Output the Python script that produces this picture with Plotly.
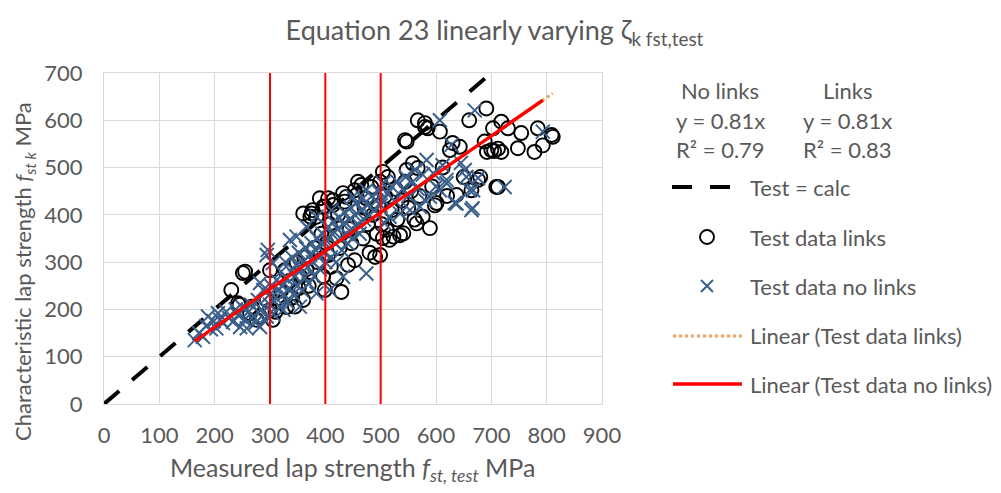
import plotly.graph_objects as go

# ---------------- data ----------------
LINKS_X = [230, 242, 245, 251, 255, 264, 267, 276, 282, 294, 300, 300, 305, 310, 315, 320, 327, 330, 335, 340,
           345, 348, 352, 355, 360, 360, 362, 366, 370, 373, 375, 377, 380, 384, 386, 390, 393, 396, 396, 399,
           399, 402, 405, 405, 408, 410, 414, 414, 417, 420, 423, 426, 429, 432, 435, 438, 441, 444, 447, 453,
           453, 456, 459, 462, 465, 468, 471, 474, 477, 480, 483, 486, 490, 493, 496, 499, 499, 502, 504, 504,
           508, 511, 513, 516, 520, 523, 527, 530, 535, 538, 541, 544, 544, 547, 547, 550, 555, 558, 561, 565,
           567, 567, 570, 576, 580, 580, 585, 589, 593, 598, 601, 607, 612, 620, 625, 630, 637, 643, 650, 660,
           664, 676, 680, 688, 691, 692, 700, 703, 705, 709, 712, 712, 718, 718, 730, 748, 754, 778, 784, 793,
           809, 811]
LINKS_Y = [241, 213, 210, 277, 280, 192, 206, 178, 185, 220, 283, 199, 178, 195, 215, 240, 283, 205, 260, 225,
           206, 300, 245, 270, 220, 403, 310, 285, 250, 396, 403, 410, 330, 396, 300, 435, 360, 270, 417, 417,
           241, 340, 315, 435, 380, 290, 431, 421, 355, 266, 400, 330, 237, 446, 428, 438, 294, 370, 340, 452,
           304, 442, 470, 390, 463, 350, 415, 435, 380, 320, 459, 400, 311, 360, 420, 470, 315, 380, 491, 351,
           440, 368, 480, 347, 410, 354, 455, 390, 357, 430, 361, 470, 558, 555, 495, 415, 450, 509, 390, 382,
           600, 499, 440, 396, 586, 594, 583, 372, 460, 420, 425, 576, 500, 440, 537, 552, 442, 544, 480, 600,
           452, 474, 480, 555, 625, 533, 537, 583, 535, 459, 459, 540, 597, 533, 583, 541, 573, 533, 583, 547,
           569, 565]

NO_LINKS_X = [164, 172, 179, 185, 188, 193, 198, 203, 206, 210, 215, 221, 226, 233, 238, 242, 246, 250, 254, 258,
              262, 266, 270, 274, 278, 282, 282, 285, 288, 290, 294, 294, 296, 298, 300, 302, 305, 306, 310, 312,
              315, 318, 320, 322, 324, 325, 328, 330, 332, 335, 336, 338, 340, 342, 345, 348, 348, 350, 352, 354,
              355, 358, 360, 362, 365, 366, 368, 370, 372, 375, 378, 380, 383, 384, 384, 385, 388, 390, 392, 395,
              398, 400, 402, 405, 408, 408, 410, 411, 412, 415, 418, 420, 422, 425, 428, 430, 432, 432, 435, 438,
              440, 443, 446, 448, 450, 450, 453, 456, 459, 462, 465, 468, 470, 474, 474, 476, 480, 484, 488, 492,
              496, 500, 504, 504, 507, 512, 516, 520, 525, 530, 535, 540, 545, 550, 553, 558, 562, 567, 571, 576,
              580, 583, 589, 595, 600, 607, 607, 612, 619, 619, 628, 634, 637, 645, 652, 655, 661, 664, 666, 667,
              670, 676, 724, 793]
NO_LINKS_Y = [135, 150, 142, 165, 185, 158, 175, 160, 192, 178, 171, 195, 182, 174, 200, 188, 163, 205, 178, 160,
              196, 210, 185, 172, 220, 163, 256, 200, 241, 178, 185, 315, 326, 230, 210, 250, 298, 190, 225, 262,
              240, 205, 280, 250, 199, 232, 300, 265, 215, 245, 347, 280, 310, 232, 270, 295, 354, 250, 320, 206,
              285, 240, 300, 268, 330, 375, 290, 255, 315, 340, 300, 270, 325, 396, 234, 350, 310, 285, 340, 360,
              320, 300, 345, 375, 330, 241, 310, 410, 360, 385, 340, 300, 370, 395, 350, 325, 380, 269, 405, 360,
              340, 390, 415, 370, 350, 438, 400, 425, 380, 360, 410, 435, 390, 276, 452, 420, 400, 440, 410, 430,
              450, 420, 431, 467, 382, 445, 396, 460, 430, 470, 403, 455, 480, 440, 410, 470, 495, 455, 417, 485,
              431, 516, 438, 488, 460, 452, 600, 505, 474, 467, 548, 425, 424, 510, 495, 480, 452, 410, 414, 452,
              621, 478, 459, 576]

TEST_CALC_X = [0, 700]
TEST_CALC_Y = [0, 700]
VLINES_X = [300, 400, 500]
VLINE_Y = [0, 700]
LINKS_SLOPE = 0.81
NO_LINKS_SLOPE = 0.81

X_TICKS = [0, 100, 200, 300, 400, 500, 600, 700, 800, 900]
Y_TICKS = [0, 100, 200, 300, 400, 500, 600, 700]

TITLE = "Equation 23 linearly varying ζ<sub>k fst,test</sub>"
X_TITLE = "Measured lap strength <i>f<sub>st, test</sub></i> MPa"
Y_TITLE = "Characteristic lap strength <i>f<sub>st k</sub></i> MPa"

# ---------------- styling ----------------
FONT = "Lato"
GREY = "#595959"
GRID = "#D9D9D9"
BLUE = "#3A5F8A"
RED = "#FF0000"
ORANGE = "#F59D56"
TXT = 22

W, H = 1001, 493
L, R, T, B = 104, 602, 73, 404  # plot area in pixels


def px(x):
    return (x - L) / (R - L)


def py(y):
    return (B - y) / (B - T)


fig = go.Figure()

fig.add_trace(go.Scatter(x=TEST_CALC_X, y=TEST_CALC_Y, mode="lines",
                         line=dict(color="black", width=4, dash="20px,17px"),
                         showlegend=False, hoverinfo="skip"))

fig.add_trace(go.Scatter(x=LINKS_X, y=LINKS_Y, mode="markers",
                         marker=dict(symbol="circle-open", size=14, color="black",
                                     line=dict(width=1.9, color="black")),
                         showlegend=False))

fig.add_trace(go.Scatter(x=NO_LINKS_X, y=NO_LINKS_Y, mode="markers",
                         marker=dict(symbol="x-thin-open", size=14, color=BLUE,
                                     line=dict(width=2, color=BLUE)),
                         showlegend=False))

lx = [min(LINKS_X), max(LINKS_X)]
fig.add_trace(go.Scatter(x=lx, y=[LINKS_SLOPE * v for v in lx], mode="lines",
                         line=dict(color=ORANGE, width=3, dash="dot"),
                         showlegend=False))
nx = [min(NO_LINKS_X), max(NO_LINKS_X)]
fig.add_trace(go.Scatter(x=nx, y=[NO_LINKS_SLOPE * v for v in nx], mode="lines",
                         line=dict(color=RED, width=3.4),
                         showlegend=False))

for v in VLINES_X:
    fig.add_trace(go.Scatter(x=[v, v], y=VLINE_Y, mode="lines",
                             line=dict(color=RED, width=2), showlegend=False, hoverinfo="skip"))

axis_common = dict(showgrid=True, gridcolor=GRID, gridwidth=1, showline=True, linecolor=GRID,
                   linewidth=1, mirror=True, zeroline=False, ticks="",
                   tickfont=dict(family=FONT, size=TXT, color=GREY))

fig.update_xaxes(range=[0, 900], tickvals=X_TICKS, ticktext=[str(v) for v in X_TICKS],
                 ticklabelstandoff=12, **axis_common)
fig.update_yaxes(range=[0, 700], tickvals=Y_TICKS, ticktext=[str(v) for v in Y_TICKS],
                 ticklabelstandoff=16, **axis_common)

annotations = [
    dict(text=X_TITLE, x=px(352), y=py(469), xanchor="center", yanchor="middle",
         font=dict(size=25)),
    dict(text=Y_TITLE, x=px(24), y=py(272), xanchor="center", yanchor="middle",
         textangle=-90, font=dict(size=22)),
    dict(text="No links", x=px(720), y=py(90), xanchor="center", yanchor="middle"),
    dict(text="Links", x=px(848), y=py(90), xanchor="center", yanchor="middle"),
    dict(text="y = 0.81x", x=px(720), y=py(120), xanchor="center", yanchor="middle"),
    dict(text="y = 0.81x", x=px(847), y=py(120), xanchor="center", yanchor="middle"),
    dict(text="R² = 0.79", x=px(720), y=py(149), xanchor="center", yanchor="middle"),
    dict(text="R² = 0.83", x=px(847), y=py(149), xanchor="center", yanchor="middle"),
    dict(text="Test = calc", x=px(748), y=py(187), xanchor="left", yanchor="middle"),
    dict(text="Test data links", x=px(748), y=py(237), xanchor="left", yanchor="middle"),
    dict(text="Test data no links", x=px(748), y=py(286), xanchor="left", yanchor="middle"),
    dict(text="Linear (Test data links)", x=px(748), y=py(335), xanchor="left", yanchor="middle"),
    dict(text="Linear (Test data no links)", x=px(748), y=py(384), xanchor="left", yanchor="middle"),
]
for a in annotations:
    size = a.get("font", {}).get("size", TXT)
    a["font"] = dict(family=FONT, size=size, color=GREY)
    a.update(xref="paper", yref="paper", showarrow=False)

shapes = [
    # Test = calc sample
    dict(type="line", x0=px(672), x1=px(692), y0=py(187), y1=py(187),
         line=dict(color="black", width=4)),
    dict(type="line", x0=px(710), x1=px(730), y0=py(187), y1=py(187),
         line=dict(color="black", width=4)),
    # circle sample
    dict(type="circle", x0=px(700), x1=px(714), y0=py(230), y1=py(244),
         line=dict(color="black", width=1.9)),
    # x sample
    dict(type="line", x0=px(701), x1=px(713), y0=py(280), y1=py(292),
         line=dict(color=BLUE, width=2)),
    dict(type="line", x0=px(701), x1=px(713), y0=py(292), y1=py(280),
         line=dict(color=BLUE, width=2)),
    # linear links sample
    dict(type="line", x0=px(673), x1=px(742), y0=py(336), y1=py(336),
         line=dict(color=ORANGE, width=3, dash="dot")),
    # linear no links sample
    dict(type="line", x0=px(673), x1=px(742), y0=py(384), y1=py(384),
         line=dict(color=RED, width=3.5)),
]
for s in shapes:
    s.update(xref="paper", yref="paper")

fig.update_layout(
    width=W, height=H,
    margin=dict(l=L, r=W - R, t=T, b=H - B, autoexpand=False),
    paper_bgcolor="white", plot_bgcolor="white",
    title=dict(text=TITLE, x=0.494, xref="container", xanchor="center",
               y=1 - 31 / H, yref="container", yanchor="middle",
               font=dict(family=FONT, size=27, color=GREY)),
    annotations=annotations,
    shapes=shapes,
    showlegend=False,
)

fig.write_html("out.html")
